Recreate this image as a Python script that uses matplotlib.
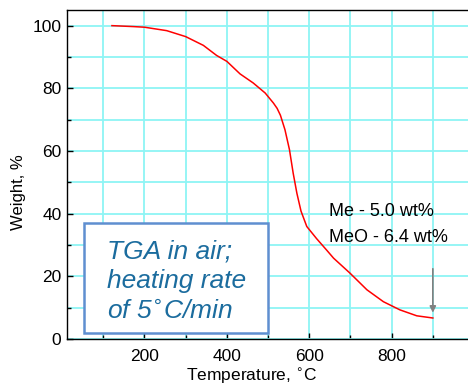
import matplotlib
matplotlib.use("Agg")
import matplotlib.pyplot as plt
from matplotlib.patches import Rectangle
import numpy as np

plt.rcParams['font.family'] = ['Liberation Sans', 'DejaVu Sans']

# TGA curve
temp = [121, 173, 200, 254, 300, 343, 375, 400, 432, 464, 493, 513, 522, 530, 541, 552,
        561, 570, 580, 594, 618, 642, 659, 699, 740, 780, 820, 861, 900]
weight = [100, 99.7, 99.5, 98.4, 96.5, 93.7, 90.5, 88.6, 84.6, 81.7, 78.5, 75.3, 73.6,
          71.4, 66.8, 60.4, 52.9, 46.5, 40.8, 35.9, 32.0, 28.4, 25.8, 21.0, 15.7, 11.9,
          9.3, 7.4, 6.7]

xticks = [200, 400, 600, 800]
yticks = [0, 20, 40, 60, 80, 100]
notes = ["Me - 5.0 wt%", "MeO - 6.4 wt%"]
box_lines = ["TGA in air;", "heating rate", "of 5$^{\\circ}$C/min"]

fig = plt.figure(figsize=(4.68, 3.88), dpi=100)
ax = fig.add_axes([0.1432, 0.1263, 0.8697, 0.848])

ax.plot(temp, weight, color='red', lw=1.1, zorder=3)

ax.set_xlim(12, 1000)
ax.set_ylim(0, 105)
ax.set_xticks(xticks)
ax.set_xticks(np.arange(100, 1000, 100), minor=True)
ax.set_yticks(yticks)
ax.set_yticks(np.arange(10, 105, 10), minor=True)
ax.grid(True, which='both', color='#8ef5f5', lw=1.3, zorder=0)
ax.set_axisbelow(True)
ax.tick_params(which='both', direction='in', labelsize=12.5, length=4, width=1)
ax.tick_params(which='minor', length=3)
ax.tick_params(axis='x', pad=7)
ax.tick_params(axis='y', pad=4)
ax.spines['right'].set_visible(False)
for s in ['left', 'bottom', 'top']:
    ax.spines[s].set_linewidth(1.0)

ax.set_ylabel("Weight, %", fontsize=12, va='center')
ax.yaxis.set_label_coords(-0.118, 0.447)
ax.set_xlabel(r"Temperature, $^{\circ}$C", fontsize=12.5, va='center')
ax.xaxis.set_label_coords(0.4545, -0.113)

ax.text(0.644, 0.387, notes[0], transform=ax.transAxes, fontsize=13, ha='left', va='center')
ax.text(0.644, 0.307, notes[1], transform=ax.transAxes, fontsize=13, ha='left', va='center')

ax.annotate('', xy=(900, 7.5), xytext=(900, 23.3),
            arrowprops=dict(arrowstyle='-|>', color='#808080', lw=1.2, mutation_scale=9))

# text box
ax.add_patch(Rectangle((0.0418, 0.018), 0.452, 0.335, transform=ax.transAxes,
                       fc='white', ec='#5f8fd0', lw=1.8, zorder=5))
for line, yb in zip(box_lines, [0.246, 0.155, 0.064]):
    ax.text(0.0983, yb, line, transform=ax.transAxes, fontsize=19, style='italic',
            color='#1b6c9e', ha='left', va='baseline', zorder=6)

fig.savefig("out.png", dpi=100)
